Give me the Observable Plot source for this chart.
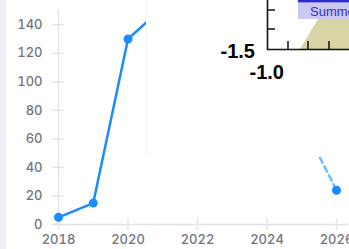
<!DOCTYPE html>
<html><head><meta charset="utf-8">
<script src="https://cdn.jsdelivr.net/npm/d3@7"></script>
<script src="https://cdn.jsdelivr.net/npm/@observablehq/plot@0.6"></script>
<style>
html,body{margin:0;padding:0;background:#fff;}
#wrap{position:relative;width:349px;height:249px;overflow:hidden;background:#fff;}
#strip{position:absolute;left:0;top:0;width:6px;height:249px;background:#eceef2;}
#overlay{position:absolute;left:146px;top:0;width:210px;height:157px;background:#fff;border-left:1px solid #f5f5f5;}
#inset{position:absolute;left:0;top:0;}
</style>
</head><body>
<div id="wrap"><div id="strip"></div><div id="chart"></div><div id="overlay"></div><svg id="inset" width="349" height="157"></svg></div>
<script>
const years = [2018, 2019, 2020, 2021, 2022, 2023, 2024, 2025, 2026];
const values = [5, 15, 130, 152, 140, 120, 95, 72, 24];
const solidYears = [2018, 2019, 2020, 2021, 2022, 2023, 2024, 2025];
const dashedYears = [2025, 2026];
const yTicks = [0, 20, 40, 60, 80, 100, 120, 140];
const xTicks = [2018, 2020, 2022, 2024, 2026];

const data = years.map((y, i) => ({year: y, value: values[i]}));
const solid = data.filter(d => solidYears.includes(d.year));
const dashed = data.filter(d => dashedYears.includes(d.year));

const blue = "#1a8cff";
const axisGray = "#e4e4e8";
const chart = Plot.plot({
  width: 349, height: 249,
  marginLeft: 58, marginRight: 13, marginTop: 10, marginBottom: 25,
  style: {fontFamily: "Inter, 'Liberation Sans', sans-serif", fontSize: "13px", color: "#71717a", background: "transparent", overflow: "visible"},
  x: {domain: [2018, 2026], label: null},
  y: {domain: [0, 150], label: null},
  marks: [
    Plot.ruleX([2018], {y1: 0, y2: 150, stroke: axisGray, strokeWidth: 1.5}),
    Plot.ruleY([0], {x1: 2017.85, x2: 2026.35, stroke: axisGray, strokeWidth: 1.5}),
    Plot.ruleY(yTicks, {x1: 2017.83, x2: 2018.17, stroke: axisGray, strokeWidth: 1.5}),
    Plot.ruleX(xTicks, {y1: -4.2, y2: 4.2, stroke: axisGray, strokeWidth: 1.5}),
    Plot.axisY({ticks: yTicks, tickSize: 0, tickPadding: 16, fontWeight: 500, fill: "#75757e", label: null}),
    Plot.axisX({ticks: xTicks, tickSize: 0, tickPadding: 10, tickFormat: "d", fontWeight: 500, fill: "#75757e", label: null}),
    Plot.line(solid, {x: "year", y: "value", stroke: blue, strokeWidth: 2.5}),
    Plot.line(dashed, {x: "year", y: "value", stroke: blue, strokeOpacity: 0.6, strokeWidth: 2.5, strokeDasharray: "6,4"}),
    Plot.dot(data, {x: "year", y: "value", r: 4.5, fill: blue})
  ]
});
document.getElementById("chart").appendChild(chart);

// inset picture overlaying the chart
const inset = d3.select("#inset");
inset.append("polygon").attr("points", "300,49 318,19 349,19 349,49").attr("fill", "#d9d4a6");
inset.append("rect").attr("x", 298).attr("y", 3).attr("width", 60).attr("height", 16).attr("fill", "#c9c9f2");
inset.append("rect").attr("x", 298).attr("y", 0).attr("width", 60).attr("height", 2.5).attr("fill", "#2a2ad0");
inset.append("text").attr("x", 310).attr("y", 15.5).attr("font-family", "'Liberation Sans', Arial, sans-serif").attr("font-size", 13).attr("fill", "#2f2fc8").text("Summer");
inset.append("path").attr("d", "M267.5,0 V49.5 H349").attr("fill", "none").attr("stroke", "#111").attr("stroke-width", 1.6);
[10, 29].forEach(y => inset.append("line").attr("x1", 267).attr("x2", 275).attr("y1", y).attr("y2", y).attr("stroke", "#111").attr("stroke-width", 1.5));
[288, 308, 329].forEach(x => inset.append("line").attr("x1", x).attr("x2", x).attr("y1", 41).attr("y2", 49).attr("stroke", "#111").attr("stroke-width", 1.5));
inset.append("text").attr("x", 255).attr("y", 58).attr("text-anchor", "end").attr("font-family", "'Liberation Sans', Arial, sans-serif").attr("font-weight", "bold").attr("font-size", 20).attr("fill", "#000").text("-1.5");
inset.append("text").attr("x", 284).attr("y", 78.5).attr("text-anchor", "end").attr("font-family", "'Liberation Sans', Arial, sans-serif").attr("font-weight", "bold").attr("font-size", 20).attr("fill", "#000").text("-1.0");
</script>
</body></html>
